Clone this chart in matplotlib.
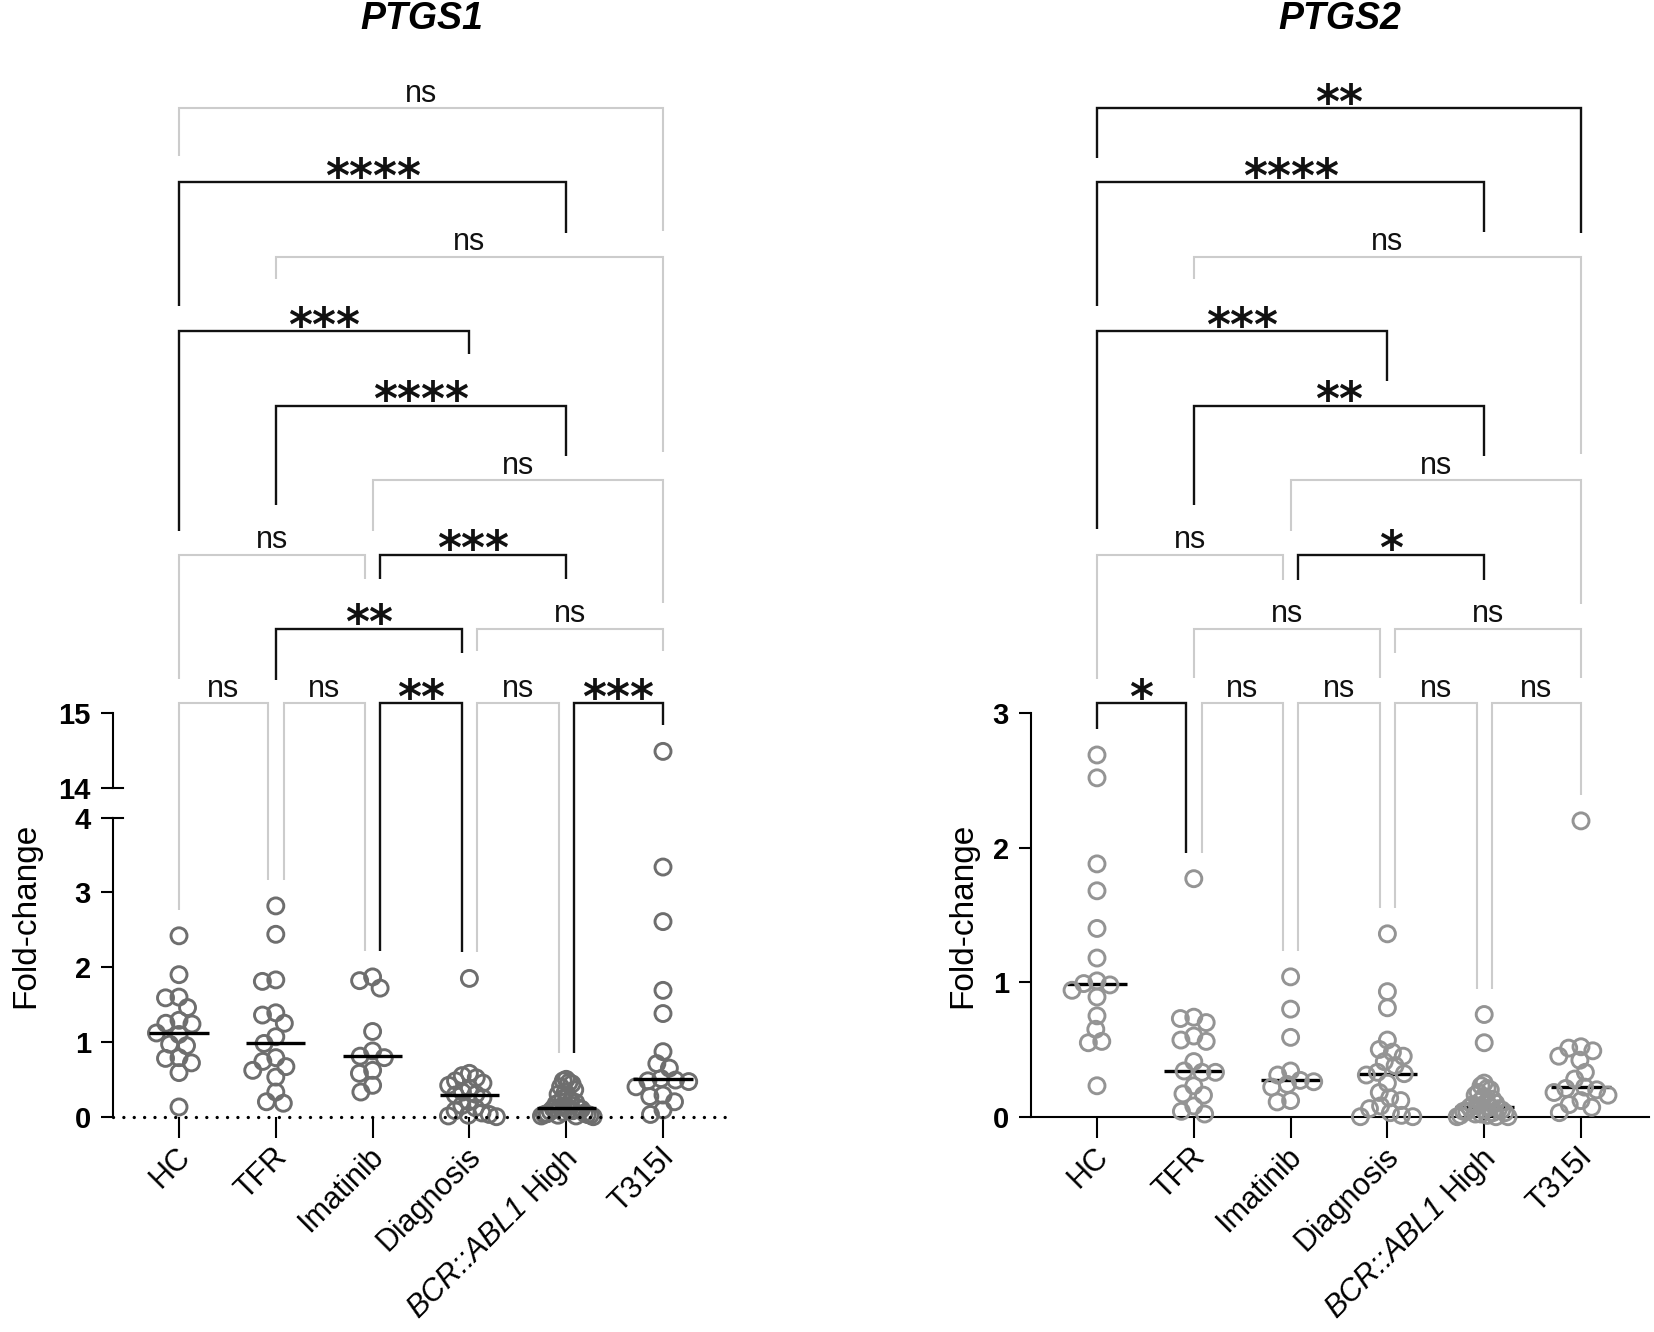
import numpy as np
import matplotlib
matplotlib.use("Agg")
import matplotlib.pyplot as plt
import matplotlib.transforms as mtransforms
from matplotlib.font_manager import FontProperties

# ---------------- data ----------------
GROUPS = ["HC", "TFR", "Imatinib", "Diagnosis", "BCR::ABL1 High", "T315I"]

p1_hc = [2.42, 1.90, 1.60, 1.59, 1.46, 1.29, 1.25, 1.24, 1.12, 1.10, 0.97, 0.95, 0.79, 0.78, 0.72, 0.59, 0.13]
p1_tfr = [2.82, 2.44, 1.83, 1.81, 1.39, 1.36, 1.25, 1.07, 0.98, 0.79, 0.74, 0.67, 0.62, 0.53, 0.33, 0.18, 0.20]
p1_ima = [1.87, 1.82, 1.72, 1.14, 0.88, 0.81, 0.79, 0.62, 0.58, 0.42, 0.33]
p1_dia = [1.85, 0.58, 0.55, 0.52, 0.48, 0.45, 0.42, 0.38, 0.33, 0.30, 0.29, 0.25, 0.20, 0.15, 0.12,
          0.08, 0.05, 0.03, 0.02, 0.01, 0.0]
p1_bcr = [0.50, 0.48, 0.46, 0.44, 0.40, 0.36, 0.33, 0.30, 0.27, 0.24, 0.21, 0.19, 0.17, 0.15, 0.13,
          0.12, 0.11, 0.10, 0.09, 0.08, 0.07, 0.06, 0.05, 0.04, 0.03, 0.03, 0.02, 0.02, 0.01, 0.01, 0.0]
p1_t315 = [14.49, 3.34, 2.61, 1.69, 1.38, 0.87, 0.71, 0.65, 0.51, 0.49, 0.48, 0.47, 0.40, 0.29, 0.27,
           0.20, 0.09, 0.03]

p2_hc = [2.69, 2.52, 1.88, 1.68, 1.40, 1.18, 1.01, 0.99, 0.98, 0.94, 0.89, 0.75, 0.65, 0.56, 0.55, 0.23]
p2_tfr = [1.77, 0.74, 0.73, 0.70, 0.60, 0.57, 0.56, 0.41, 0.34, 0.33, 0.33, 0.23, 0.17, 0.16, 0.08, 0.04, 0.02]
p2_ima = [1.04, 0.80, 0.59, 0.34, 0.31, 0.27, 0.26, 0.24, 0.22, 0.12, 0.11]
p2_dia = [1.36, 0.93, 0.81, 0.57, 0.50, 0.48, 0.45, 0.41, 0.38, 0.33, 0.32, 0.31, 0.25, 0.18, 0.14,
          0.12, 0.08, 0.06, 0.03, 0.01, 0.0, 0.0]
p2_bcr = [0.76, 0.55, 0.25, 0.23, 0.21, 0.20, 0.18, 0.16, 0.15, 0.13, 0.12, 0.11, 0.10, 0.09, 0.08,
          0.07, 0.07, 0.06, 0.05, 0.05, 0.04, 0.04, 0.03, 0.03, 0.02, 0.02, 0.01, 0.01, 0.0, 0.0, 0.0]
p2_t315 = [2.20, 0.52, 0.51, 0.49, 0.45, 0.42, 0.33, 0.28, 0.22, 0.21, 0.20, 0.18, 0.16, 0.12, 0.09, 0.07, 0.03]

PTGS1 = [p1_hc, p1_tfr, p1_ima, p1_dia, p1_bcr, p1_t315]
PTGS2 = [p2_hc, p2_tfr, p2_ima, p2_dia, p2_bcr, p2_t315]

# comparisons: (group a, group b, label, row)
BR1 = [(0, 1, "ns", 0), (1, 2, "ns", 0), (2, 3, "**", 0), (3, 4, "ns", 0), (4, 5, "***", 0),
       (1, 3, "**", 1), (3, 5, "ns", 1),
       (0, 2, "ns", 2), (2, 4, "***", 2),
       (2, 5, "ns", 3),
       (1, 4, "****", 4),
       (0, 3, "***", 5),
       (1, 5, "ns", 6),
       (0, 4, "****", 7),
       (0, 5, "ns", 8)]
BR2 = [(0, 1, "*", 0), (1, 2, "ns", 0), (2, 3, "ns", 0), (3, 4, "ns", 0), (4, 5, "ns", 0),
       (1, 3, "ns", 1), (3, 5, "ns", 1),
       (0, 2, "ns", 2), (2, 4, "*", 2),
       (2, 5, "ns", 3),
       (1, 4, "**", 4),
       (0, 3, "***", 5),
       (1, 5, "ns", 6),
       (0, 4, "****", 7),
       (0, 5, "**", 8)]

# leg lengths in pixels (None = drop down to the data)
LEGS1 = [None] * 5 + [(51, 24), (22, 22), (124, 24), (24, 24), (51, 123), (99, 50),
                      (200, 23), (22, 195), (124, 51), (48, 123)]
LEGS2 = [None] * 5 + [(49, 49), (24, 49), (124, 25), (25, 25), (51, 124), (99, 50),
                      (198, 50), (22, 197), (124, 50), (50, 125)]

# ---------------- layout ----------------
W, H = 1654, 1332
plt.rcParams["font.family"] = ["Liberation Sans", "DejaVu Sans"]
fig = plt.figure(figsize=(W / 100, H / 100), dpi=100)

XLIM = (-0.68, 5.70)
STEP = 96.8
ROW0, ROWSTEP = 703.3, 74.4
BLACK, GRAY = "#111111", "#cccccc"
TICKFONT = dict(family=["Liberation Sans Narrow", "Liberation Sans"], weight="bold", size=21)


def add_px_axes(left, top, right, bottom):
    return fig.add_axes([left / W, 1 - bottom / H, (right - left) / W, (bottom - top) / H])


def style_axis(ax):
    for s in ["top", "right"]:
        ax.spines[s].set_visible(False)
    ax.spines["left"].set_linewidth(1.5)
    ax.spines["bottom"].set_linewidth(1.5)
    ax.tick_params(axis="y", length=9, width=1.5, pad=7)
    ax.tick_params(axis="x", length=15, width=1.5, labelbottom=False)
    ax.set_xlim(*XLIM)
    ax.set_facecolor("none")


def swarm(ypx, d=13.5, max_half=27.0):
    n = len(ypx)
    xs = np.zeros(n)
    placed = []
    for i in np.argsort(-ypx):
        blocked = []
        cands = [0.0]
        for j in placed:
            dy = abs(ypx[j] - ypx[i])
            if dy < d:
                dx = np.sqrt(d * d - dy * dy)
                blocked.append((xs[j] - dx, xs[j] + dx))
                cands += [xs[j] - dx, xs[j] + dx]
        cands.sort(key=lambda c: (abs(c), c))
        for c in cands:
            if all(not (lo + 1e-6 < c < hi - 1e-6) for lo, hi in blocked):
                xs[i] = c
                break
        placed.append(i)
    m = np.abs(xs).max()
    if m > max_half:
        xs *= max_half / m
    return xs


def plot_groups(groups, pick_ax, color, med_z):
    for gi, vals in enumerate(groups):
        vals = np.asarray(vals, float)
        axs = [pick_ax(v) for v in vals]
        ypx = np.array([a.transData.transform((gi, v))[1] for a, v in zip(axs, vals)])
        off = swarm(ypx)
        for a, v, o in zip(axs, vals, off):
            ppx = a.transData.transform((1, 0))[0] - a.transData.transform((0, 0))[0]
            a.scatter([gi + o / ppx], [v], s=11.5 ** 2, facecolors="none", edgecolors=color,
                      linewidths=2.1, clip_on=False, zorder=3)
        med = np.median(vals)
        pick_ax(med).plot([gi - 0.305, gi + 0.305], [med, med], color="black", lw=2.4,
                          solid_capstyle="butt", zorder=med_z, clip_on=False)


def top_of_groups(groups, pick_ax):
    tops = []
    for gi, vals in enumerate(groups):
        v = max(vals)
        tops.append(H - pick_ax(v).transData.transform((gi, v))[1])
    return tops


def draw_brackets(left, right, brackets, legs, tops):
    axb = fig.add_axes([left / W, 0, (right - left) / W, 1])
    axb.set_xlim(*XLIM)
    axb.set_ylim(H, 0)
    axb.axis("off")
    axb.set_zorder(5)
    off = 7.7 / ((right - left) / (XLIM[1] - XLIM[0]))
    for (a, b, lab, row), leg in zip(brackets, legs):
        xa, xb = float(a), float(b)
        if any(o[3] == row and o[1] == a for o in brackets):
            xa += off
        if any(o[3] == row and o[0] == b for o in brackets):
            xb -= off
        y = ROW0 - ROWSTEP * row
        if leg is None:
            ya, yb = tops[a] - 26, tops[b] - 26
        else:
            ya, yb = y + leg[0], y + leg[1]
        col = GRAY if lab == "ns" else BLACK
        axb.plot([xa, xa, xb, xb], [ya, y, y, yb], color=col,
                 lw=1.5 if lab == "ns" else 1.7, clip_on=False,
                 solid_joinstyle="miter", solid_capstyle="butt")
        xm = (xa + xb) / 2
        if lab == "ns":
            axb.text(xm, y - 6.5, lab, ha="center", va="baseline", fontsize=22, color=BLACK)
        else:
            axb.text(xm, y + 9.5, lab, ha="center", va="baseline", fontsize=33,
                     family="DejaVu Sans", weight="bold", color=BLACK)


def category_labels(ax):
    rend = fig.canvas.get_renderer()
    fp = FontProperties(family="Liberation Sans", size=22)
    dx, dy = -4, -25
    for i, name in enumerate(GROUPS):
        tr = mtransforms.offset_copy(ax.get_xaxis_transform(), fig=fig, x=dx, y=dy, units="dots")
        if name.startswith("BCR::ABL1"):
            w = rend.get_text_width_height_descent("High", fp, ismath=False)[0]
            w += 0.278 * 22 * 100 / 72
            ax.text(i, 0, "High", transform=tr, rotation=45, ha="right", va="top",
                    rotation_mode="anchor", fontproperties=fp)
            c = np.cos(np.pi / 4)
            tr2 = mtransforms.offset_copy(ax.get_xaxis_transform(), fig=fig,
                                          x=dx - w * c, y=dy - w * c, units="dots")
            ax.text(i, 0, "BCR::ABL1", transform=tr2, rotation=45, ha="right", va="top",
                    rotation_mode="anchor", family="Liberation Sans", style="italic", size=22)
        else:
            ax.text(i, 0, name, transform=tr, rotation=45, ha="right", va="top",
                    rotation_mode="anchor", fontproperties=fp)


# ---------------- PTGS1 (broken axis) ----------------
L1 = 179 + XLIM[0] * STEP
R1 = 179 + XLIM[1] * STEP
ax1b = add_px_axes(L1, 817.7, R1, 1116.7)
ax1t = add_px_axes(L1, 713.3, R1, 788.0)
for a in (ax1b, ax1t):
    style_axis(a)
ax1b.set_ylim(0, 4)
ax1t.set_ylim(14, 15)
ax1b.set_yticks([0, 1, 2, 3, 4])
ax1t.set_yticks([14, 15])
ax1t.spines["bottom"].set_visible(False)
ax1t.tick_params(axis="x", bottom=False)
ax1b.spines["bottom"].set_visible(False)
ax1b.set_xticks(range(len(GROUPS)))
for a in (ax1b, ax1t):
    for t in a.get_yticklabels():
        t.set_fontproperties(FontProperties(**TICKFONT))
# break marks
ax1b.plot([0, 0.016], [4, 4], transform=ax1b.get_yaxis_transform(), color="black", lw=1.5, clip_on=False)
ax1t.plot([0, 0.016], [14, 14], transform=ax1t.get_yaxis_transform(), color="black", lw=1.5, clip_on=False)
# dotted zero line
ax1b.plot(XLIM, [0, 0], color="black", lw=2.4, ls=(0, (0.01, 3.1)), dash_capstyle="round",
          clip_on=False, zorder=4)


def pick1(v):
    return ax1t if v > 4 else ax1b


plot_groups(PTGS1, pick1, "#6e6e6e", 4)
draw_brackets(L1, R1, BR1, LEGS1, top_of_groups(PTGS1, pick1))
category_labels(ax1b)

# ---------------- PTGS2 ----------------
L2 = 1097 + XLIM[0] * STEP
R2 = 1097 + XLIM[1] * STEP
ax2 = add_px_axes(L2, 713.3, R2, 1116.7)
style_axis(ax2)
ax2.set_ylim(0, 3)
ax2.set_yticks([0, 1, 2, 3])
ax2.set_xticks(range(len(GROUPS)))
for t in ax2.get_yticklabels():
    t.set_fontproperties(FontProperties(**TICKFONT))


def pick2(v):
    return ax2


plot_groups(PTGS2, pick2, "#949494", 2)
draw_brackets(L2, R2, BR2, LEGS2, top_of_groups(PTGS2, pick2))
category_labels(ax2)

# ---------------- titles and axis labels ----------------
fig.text((L1 + R1) / 2 / W, 1 - 19 / H, "PTGS1", ha="center", va="center",
         fontsize=27, weight="bold", style="italic")
fig.text((L2 + R2) / 2 / W, 1 - 19 / H, "PTGS2", ha="center", va="center",
         fontsize=27, weight="bold", style="italic")
fig.text(26 / W, 1 - 915 / H, "Fold-change", rotation=90, ha="center", va="center", fontsize=24)
fig.text(963 / W, 1 - 915 / H, "Fold-change", rotation=90, ha="center", va="center", fontsize=24)

fig.savefig("out.png", dpi=100, facecolor="white")
